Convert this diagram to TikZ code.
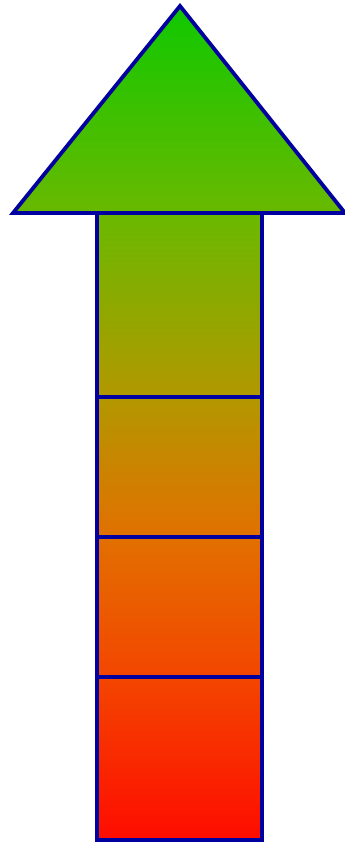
\documentclass[tikz,border=0pt]{standalone}
\usepackage{xcolor}
\usepackage{tikz}
\definecolor{edgeblue}{RGB}{0, 0, 160}
\definecolor{headgreen}{RGB}{15, 200, 0}
\definecolor{limegreen}{RGB}{105, 185, 0}
\definecolor{olivegold}{RGB}{178, 152, 0}
\definecolor{amber}{RGB}{226, 112, 0}
\definecolor{redorange}{RGB}{243, 70, 0}
\definecolor{tailred}{RGB}{255, 12, 0}
\pgfdeclareverticalshading{arrowfade}{100bp}{%
  color(0bp)=(tailred); color(25bp)=(tailred); color(34.8bp)=(redorange);
  color(43.2bp)=(amber); color(51.6bp)=(olivegold); color(62.6bp)=(limegreen);
  color(75bp)=(headgreen); color(100bp)=(headgreen)}
\tikzset{
  outline/.style={draw=edgeblue, line width=3.8pt, line join=miter},
  divider/.style={draw=edgeblue, line width=3.8pt}
}
\begin{document}
\begin{tikzpicture}[x=1pt, y=-1pt]
    \useasboundingbox (0,0) rectangle (345,843);
    % Corners of head and shaft
    \coordinate (apex) at (180,6);
    \coordinate (headL) at (13,213);
    \coordinate (headR) at (345,213);
    \coordinate (shaftTL) at (97,213);
    \coordinate (shaftBR) at (262,840);

    % Gradient fill
    \shade[shading=arrowfade] (headL) -- (apex) -- (headR) -- cycle
        (shaftTL) rectangle (shaftBR);

    % Outlines
    \draw[outline] (headL) -- (apex) -- (headR) -- cycle;
    \draw[outline] (shaftTL) rectangle (shaftBR);

    % Dividers
    \foreach \y/\name in {397/a, 537/b, 677/c} {
        \coordinate (div\name L) at (97,\y);
        \coordinate (div\name R) at (262,\y);
        \draw[divider] (div\name L) -- (div\name R);
    }
\end{tikzpicture}
\end{document}
